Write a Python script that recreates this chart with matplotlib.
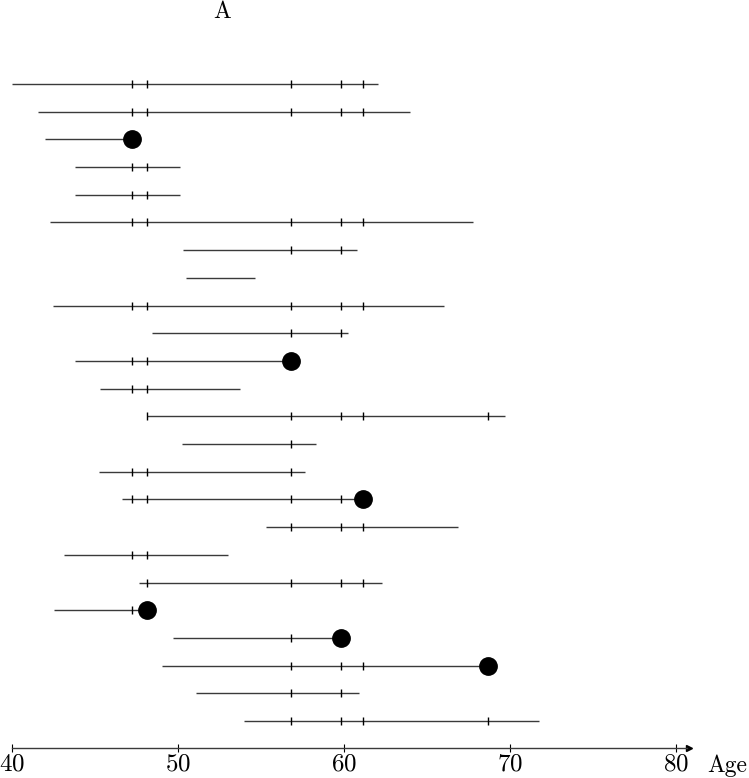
import numpy as np
import matplotlib
matplotlib.use('Agg')
import matplotlib.pyplot as plt

# follow-up of each subject: age at entry, age at exit, event at exit (1) or censored (0)
entry = [40.0, 41.58, 42.0, 43.83, 43.83, 42.33, 50.32, 50.48, 42.5, 48.43, 43.83, 45.34,
         48.15, 50.26, 45.26, 46.66, 55.34, 43.15, 47.67, 42.57, 49.74, 49.07, 51.08, 54.01]
exit_age = [62.05, 64.0, 47.25, 50.16, 50.16, 67.77, 60.8, 54.66, 66.06, 60.24, 56.83, 53.73,
            69.7, 58.31, 57.65, 61.16, 66.9, 53.05, 62.31, 48.15, 59.82, 68.67, 60.9, 71.75]
event = [0, 0, 1, 0, 0, 0, 0, 0, 0, 0, 1, 0,
         0, 0, 0, 1, 0, 0, 0, 1, 1, 1, 0, 0]
axis_ticks = [40, 50, 60, 70, 80]

plt.rcParams['font.family'] = ['cmr10', 'DejaVu Serif']
plt.rcParams['mathtext.fontset'] = 'cm'
plt.rcParams['axes.formatter.use_mathtext'] = True

fig = plt.figure(figsize=(7.49, 7.78), dpi=100)
ax = fig.add_axes([0, 0, 1, 1])

event_times = sorted(e for e, d in zip(exit_age, event) if d == 1)
for i, (a, b, d) in enumerate(zip(entry, exit_age, event)):
    ax.plot([a, b], [i, i], color='#3a3a3a', lw=1.0, solid_capstyle='butt')
    # ticks at every event time where the subject is at risk
    at_risk = [t for t in event_times if a <= t <= b and not (d == 1 and t == b)]
    ax.plot(at_risk, [i] * len(at_risk), ls='none', marker='|', ms=6, mew=1.0, color='black')
    if d == 1:
        ax.plot(b, i, 'o', ms=12.5, color='black')

px = 16.6  # pixels per year
ax.set_xlim(40 - 11.7 / px, 40 + (749 - 11.7) / px)
ax.set_ylim((778 - 84) / 27.7, -84 / 27.7)

for s in ['top', 'right', 'left']:
    ax.spines[s].set_visible(False)
ax.spines['bottom'].set_position(('data', 23.96))
ax.spines['bottom'].set_bounds(40, 80.7)
ax.spines['bottom'].set_linewidth(1.0)
ax.spines['bottom'].set_color('#3a3a3a')
ax.plot(80.8, 23.96, marker='>', ms=5, color='black', clip_on=False)
ax.set_yticks([])
ax.set_xticks(axis_ticks)
ax.tick_params(axis='x', direction='inout', length=6, width=0.8, labelsize=18, pad=1)
ax.text(81.9, 24.84, 'Age', fontsize=17, ha='left', va='baseline')
fig.text(222 / 749, 1 - 12 / 778, 'A', fontsize=17, ha='center', va='center')

fig.savefig('out.png', dpi=100)
